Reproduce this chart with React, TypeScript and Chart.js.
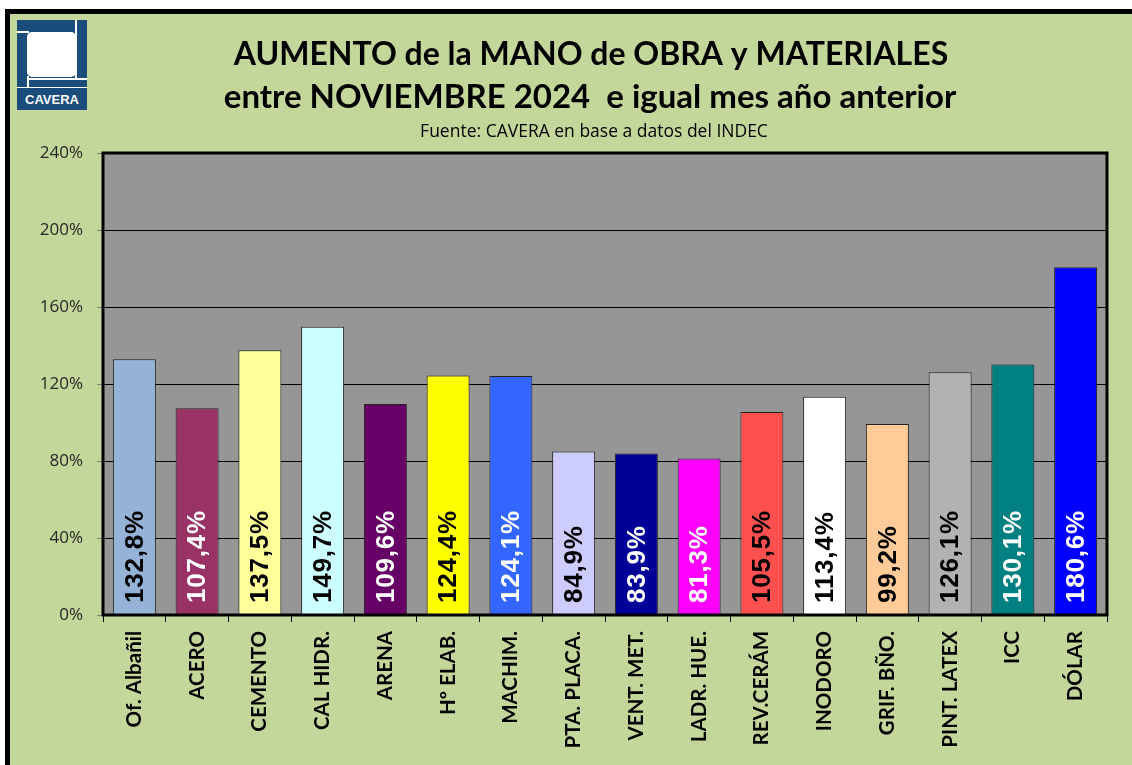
import React, { useEffect, useRef } from "react";
import { Chart, registerables } from "chart.js";

Chart.register(...registerables);

const categories = [
  "Of. Albañil", "ACERO", "CEMENTO", "CAL HIDR.", "ARENA", "Hº ELAB.", "MACHIM.", "PTA. PLACA.",
  "VENT. MET.", "LADR. HUE.", "REV.CERÁM", "INODORO", "GRIF. BÑO.", "PINT. LATEX", "ICC", "DÓLAR",
];
const values = [132.8, 107.4, 137.5, 149.7, 109.6, 124.4, 124.1, 84.9, 83.9, 81.3, 105.5, 113.4, 99.2, 126.1, 130.1, 180.6];
const barColors = [
  "#95B3D7", "#993366", "#FFFF99", "#CCFFFF", "#660066", "#FFFF00", "#3366FF", "#CCCCFF",
  "#000099", "#FF00FF", "#FF5050", "#FFFFFF", "#FFCC99", "#B2B2B2", "#008080", "#0000FF",
];
const labelColors = [
  "#000", "#fff", "#000", "#000", "#fff", "#000", "#fff", "#000",
  "#fff", "#fff", "#000", "#000", "#000", "#000", "#fff", "#fff",
];
const titleLines = ["AUMENTO de la MANO de OBRA y MATERIALES", "entre NOVIEMBRE 2024  e igual mes año anterior"];
const subtitleText = "Fuente: CAVERA en base a datos del INDEC";
const yTicks = { min: 0, max: 240, step: 40 };

const fmt = (v: number) => v.toFixed(1).replace(".", ",") + "%";

const headerText = {
  id: "headerText",
  afterDraw(chart: any) {
    const { ctx } = chart;
    ctx.save();
    ctx.fillStyle = "#000";
    ctx.textAlign = "center";
    ctx.textBaseline = "alphabetic";
    ctx.font = "bold 32px Lato, 'Noto Sans', sans-serif";
    ctx.fillText(titleLines[0], 591, 65);
    ctx.font = "bold 33px Lato, 'Noto Sans', sans-serif";
    ctx.fillText(titleLines[1], 590, 108);
    ctx.font = "17.5px 'Open Sans', sans-serif";
    ctx.fillText(subtitleText, 594, 137);
    ctx.restore();
  },
};

const plotDecor = {
  id: "plotDecor",
  beforeDraw(chart: any) {
    const { ctx, chartArea: a } = chart;
    ctx.save();
    ctx.fillStyle = "#969696";
    ctx.fillRect(a.left, a.top, a.right - a.left, a.bottom - a.top);
    ctx.restore();
  },
  afterDatasetsDraw(chart: any) {
    const { ctx, chartArea: a } = chart;
    ctx.save();
    ctx.strokeStyle = "#000";
    ctx.lineWidth = 3;
    ctx.strokeRect(a.left, a.top, a.right - a.left, a.bottom - a.top);
    const meta = chart.getDatasetMeta(0);
    ctx.font = "bold 26px 'Liberation Sans', Arial, sans-serif";
    (ctx as any).letterSpacing = "0.8px";
    ctx.textAlign = "left";
    ctx.textBaseline = "middle";
    meta.data.forEach((bar: any, i: number) => {
      ctx.save();
      ctx.translate(bar.x + 1, a.bottom - 12);
      ctx.rotate(-Math.PI / 2);
      ctx.fillStyle = labelColors[i];
      ctx.fillText(fmt(values[i]), 0, 0);
      ctx.restore();
    });
    ctx.restore();
  },
};

export default function App() {
  const ref = useRef<HTMLCanvasElement>(null);
  useEffect(() => {
    if (!ref.current) return;
    const chart = new Chart(ref.current, {
      type: "bar",
      data: {
        labels: categories,
        datasets: [
          {
            data: values,
            backgroundColor: barColors,
            borderColor: "#222",
            borderWidth: 1,
            categoryPercentage: 1,
            barPercentage: 0.685,
          },
        ],
      },
      options: {
        animation: false,
        responsive: false,
        devicePixelRatio: 1,
        layout: { padding: { left: 0, right: 25, top: 153, bottom: 0 } },
        plugins: {
          legend: { display: false },
          tooltip: { enabled: false },
          title: { display: false },
        },
        scales: {
          x: {
            offset: true,
            grid: { display: true, drawOnChartArea: false, drawTicks: true, tickLength: 7, tickColor: "#000", offset: true },
            border: { display: false },
            ticks: {
              color: "#000",
              maxRotation: 90,
              minRotation: 90,
              autoSkip: false,
              padding: 9,
              font: { family: "Lato, 'Open Sans', sans-serif", size: 20.5, weight: "bold" },
            },
            afterFit(scale: any) {
              scale.height = 150;
            },
          },
          y: {
            min: yTicks.min,
            max: yTicks.max,
            grid: { color: "#000", lineWidth: 1, drawTicks: true, tickLength: 6, tickColor: "#808080" },
            border: { display: false },
            ticks: {
              stepSize: yTicks.step,
              color: "#262626",
              padding: 14,
              font: { family: "'Open Sans', sans-serif", size: 17 },
              callback: (v: any) => v + "%",
            },
            afterFit(scale: any) {
              scale.width = 103;
            },
          },
        },
      },
      plugins: [plotDecor, headerText],
    });
    return () => chart.destroy();
  }, []);

  return (
    <div style={{ position: "fixed", left: 0, top: 0, width: 1132, height: 765, background: "#fff", overflow: "hidden" }}>
      <div
        style={{
          position: "absolute",
          left: 5,
          top: 9,
          width: 1200,
          height: 800,
          border: "5px solid #000",
          background: "#C4D79B",
        }}
      />
      <div style={{ position: "absolute", left: 17, top: 20, width: 70, height: 90, background: "#1A4C7C" }}>
        <div style={{ position: "absolute", left: 0, top: 11, width: 12, height: 2, background: "#fff" }} />
        <div style={{ position: "absolute", left: 10, top: 12, width: 49, height: 45, background: "#fff", borderRadius: 5 }} />
        <div style={{ position: "absolute", left: 58, top: 0, width: 2, height: 60, background: "#fff" }} />
        <div style={{ position: "absolute", left: 10, top: 58, width: 60, height: 2, background: "#fff" }} />
        <div style={{ position: "absolute", left: 10, top: 56, width: 2, height: 12, background: "#fff" }} />
        <div style={{ position: "absolute", left: 0, top: 67, width: 70, height: 1, background: "#fff" }} />
        <div
          style={{
            position: "absolute",
            left: 0,
            top: 69,
            width: 70,
            height: 21,
            color: "#fff",
            font: "bold 13px 'Liberation Sans Narrow', 'Liberation Sans', Arial, sans-serif",
            textAlign: "center",
            lineHeight: "21px",
          }}
        >
          CAVERA
        </div>
      </div>
      <canvas ref={ref} width={1132} height={765} style={{ position: "absolute", left: 0, top: 0 }} />
    </div>
  );
}
